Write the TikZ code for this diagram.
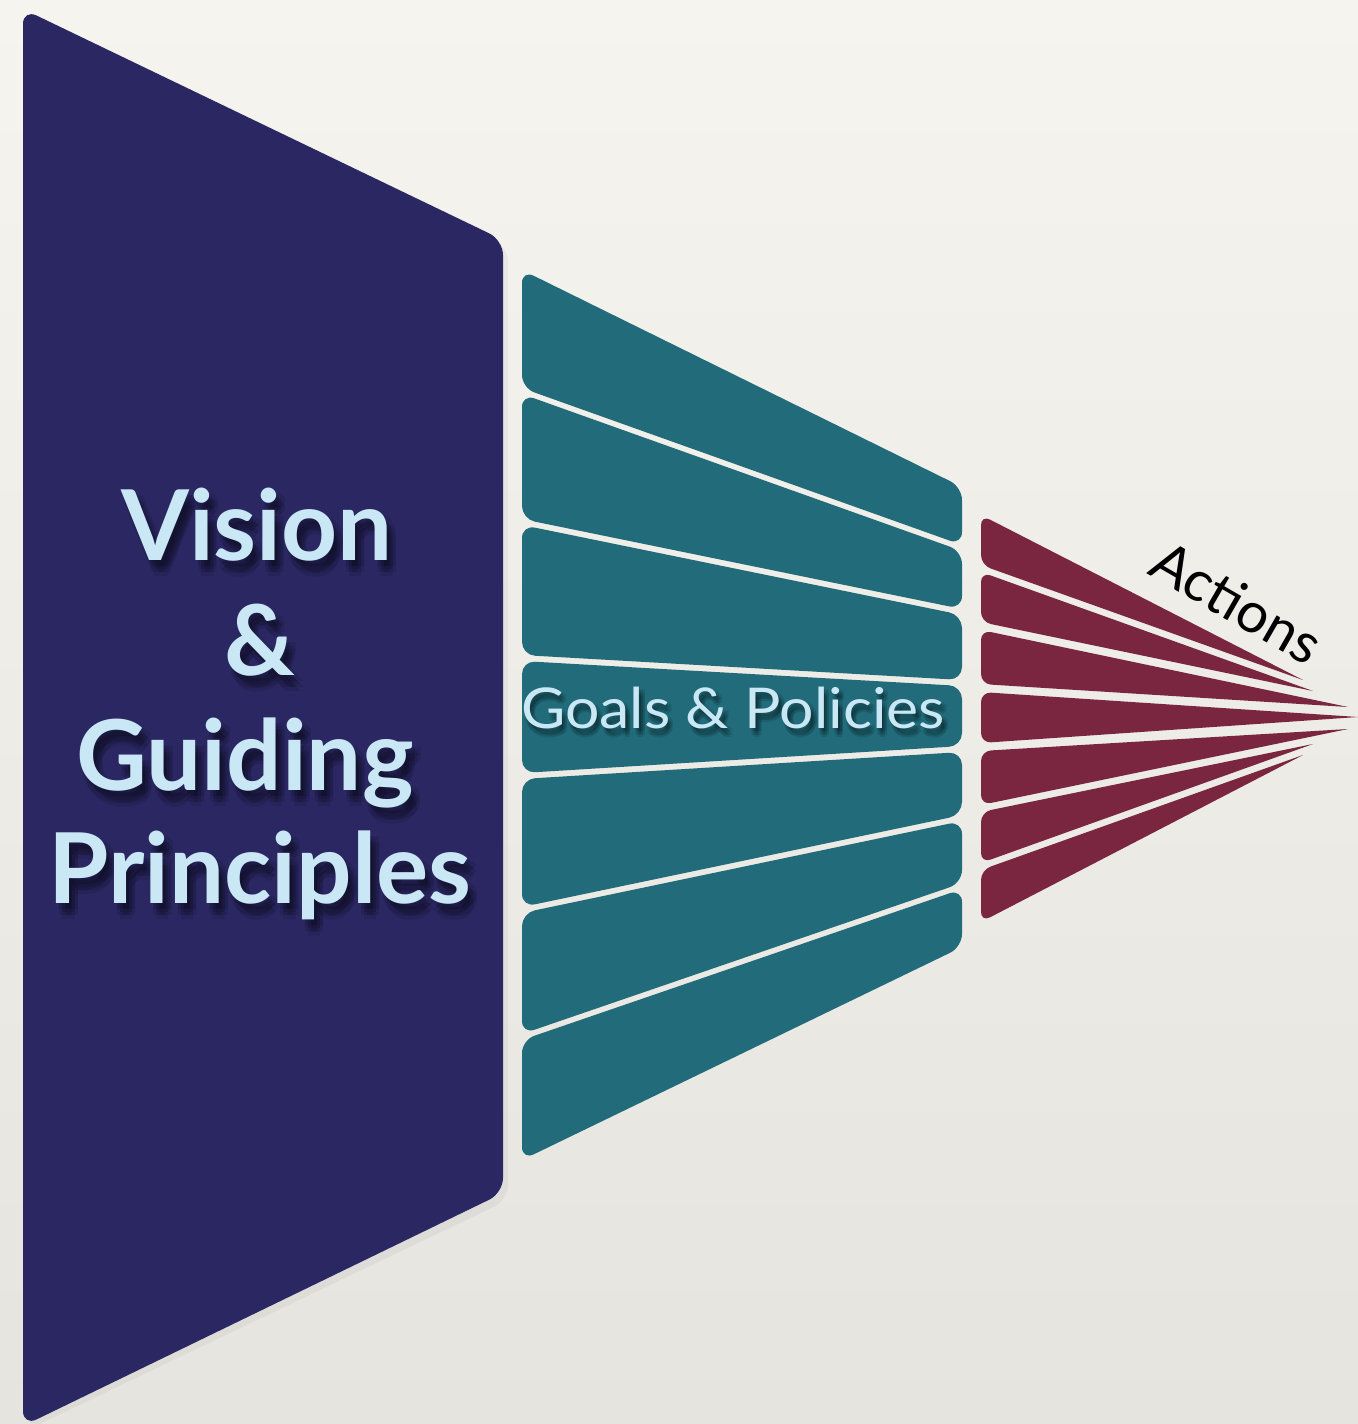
\documentclass[tikz,border=0pt]{standalone}
\usepackage{fontspec}
\setmainfont{Lato}
\begin{document}
\begin{tikzpicture}[x=0.01cm,y=-0.01cm]
\definecolor{navyc}{HTML}{2A2762}
\definecolor{tealc}{HTML}{216B7A}
\definecolor{winec}{HTML}{7B2640}
\definecolor{paperA}{HTML}{F6F4EF}
\definecolor{paperB}{HTML}{E6E4DF}
\definecolor{lightb}{HTML}{C9E7F5}
\tikzset{
  bigtext/.style={font=\fontsize{27.8}{32}\selectfont\bfseries, text=lightb, inner sep=0pt, anchor=base},
  bigshadow/.style={font=\fontsize{27.8}{32}\selectfont\bfseries, text=black, text opacity=0.1, inner sep=0pt, anchor=base},
  midtext/.style={font=\fontsize{16}{19}\selectfont, text=lightb, inner sep=0pt, anchor=base, xscale=1.08},
  midshadow/.style={font=\fontsize{16}{19}\selectfont, text=black, text opacity=0.1, inner sep=0pt, anchor=base, xscale=1.08},
  tealslice/.style={fill=tealc, rounded corners=0.13cm},
  wineslice/.style={fill=winec, rounded corners=0.1cm},
}
\useasboundingbox (0,0) rectangle (1358,1424);
\shade[top color=paperA, bottom color=paperB] (0,0) rectangle (1358,1424);

% soft drop shadow of the shapes
\fill[black, opacity=0.04, rounded corners=0.15cm] (27,15) -- (508,246) -- (508,1200) -- (27,1430) -- cycle;

% Vision block
\fill[navyc, rounded corners=0.15cm] (23,9) -- (503,240) -- (503,1193) -- (23,1426) -- cycle;

% Goals slices
\foreach \lt/\lb/\rt/\rb in {270/388/487/545, 394/519/551/609, 525/655/615/680, 661/773/686/746, 779/907/752/815, 913/1034/821/883, 1040/1160/889/947}{
  \fill[tealslice] (522,\lt) -- (962,\rt) -- (962,\rb) -- (522,\lb) -- cycle;
}

% Action slices
\foreach \tl/\bl/\tx/\ty in {515/565/1303/680, 572/622/1313/691, 630/684/1348/707, 692/743/1358/717, 751/805/1348/729, 812/863/1313/744, 870/922/1303/755}{
  \fill[wineslice] (\tx,\ty) -- (981,\tl) -- (981,\bl) -- (\tx,\ty);
}

% text shadows
\foreach \dx/\dy in {3/6,9/6,3/12,9/12,6/16,6/9}{
  \node[bigshadow] at (257+\dx,560+\dy) {Vision};
  \node[bigshadow] at (260+\dx,675+\dy) {\&};
  \node[bigshadow] at (245+\dx,790+\dy) {Guiding};
  \node[bigshadow] at (260+\dx,903+\dy) {Principles};
  \node[midshadow] at (733+\dx*0.6,728+\dy*0.6) {Goals \& Policies};
}

\node[bigtext] (vision) at (257,560) {Vision};
\node[bigtext] (amp) at (260,675) {\&};
\node[bigtext] (guiding) at (245,790) {Guiding};
\node[bigtext] (principles) at (260,903) {Principles};
\node[midtext] (goals) at (733,728) {Goals \& Policies};
\node[font=\fontsize{16}{19}\selectfont, text=black, inner sep=0pt, rotate=-30] (actions) at (1237,602) {Actions};
\end{tikzpicture}
\end{document}
